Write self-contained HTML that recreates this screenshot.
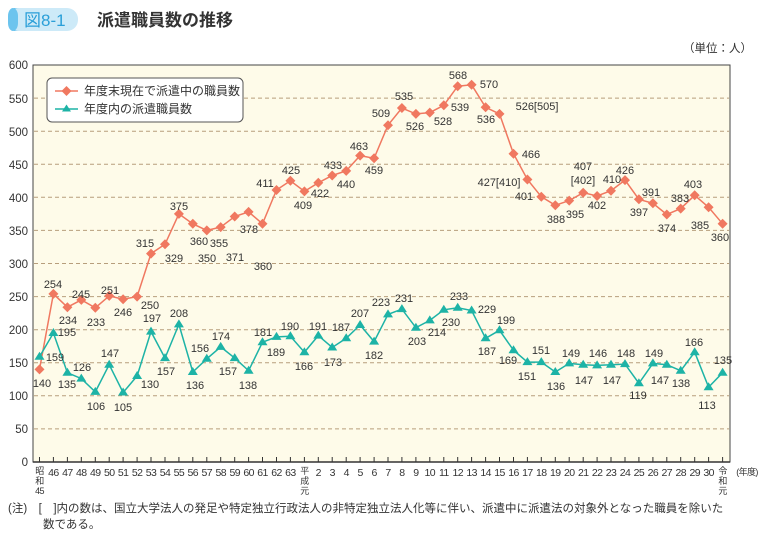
<!DOCTYPE html>
<html><head><meta charset="utf-8"><style>
body{margin:0;background:#fff;}
svg{display:block;font-family:"Liberation Sans","Noto Sans CJK JP",sans-serif;}
</style></head><body>
<svg width="760" height="535" viewBox="0 0 760 535" xmlns="http://www.w3.org/2000/svg">
<rect x="8" y="8" width="70" height="23" rx="11" fill="#cdeaf8"/>
<path d="M19 8 A11 11.5 0 0 0 19 31 L14 31 L14 8Z" fill="#6cc4ee"/>
<rect x="8" y="8" width="10" height="23" rx="8" fill="#6cc4ee"/>
<text x="24" y="26" font-size="17" fill="#2a9fd8">図8-1</text>
<text x="97" y="26" font-size="17" font-weight="bold" fill="#333">派遣職員数の推移</text>
<text x="752" y="52" font-size="11.5" fill="#333" text-anchor="end">（単位：人）</text>
<rect x="33" y="65" width="697" height="397" fill="#fefbe9" stroke="#444" stroke-width="1"/>
<g stroke="#b79e7c" stroke-width="1" stroke-dasharray="4,3">
<line x1="34" x2="729" y1="428.9" y2="428.9"/><line x1="34" x2="729" y1="395.8" y2="395.8"/><line x1="34" x2="729" y1="362.7" y2="362.7"/><line x1="34" x2="729" y1="329.7" y2="329.7"/><line x1="34" x2="729" y1="296.6" y2="296.6"/><line x1="34" x2="729" y1="263.5" y2="263.5"/><line x1="34" x2="729" y1="230.4" y2="230.4"/><line x1="34" x2="729" y1="197.3" y2="197.3"/><line x1="34" x2="729" y1="164.2" y2="164.2"/><line x1="34" x2="729" y1="131.2" y2="131.2"/><line x1="34" x2="729" y1="98.1" y2="98.1"/>
</g>
<line x1="33" y1="462" x2="730" y2="462" stroke="#333" stroke-width="1.5"/>
<g font-size="11.5" fill="#333" text-anchor="end">
<text x="28" y="466">0</text><text x="28" y="433">50</text><text x="28" y="400">100</text><text x="28" y="367">150</text><text x="28" y="334">200</text><text x="28" y="301">250</text><text x="28" y="268">300</text><text x="28" y="235">350</text><text x="28" y="202">400</text><text x="28" y="169">450</text><text x="28" y="136">500</text><text x="28" y="103">550</text><text x="28" y="69">600</text>
</g>
<g stroke="#333" stroke-width="1">
<path d="M39.5 462v-5M53.4 462v-5M67.4 462v-5M81.3 462v-5M95.3 462v-5M109.2 462v-5M123.1 462v-5M137.1 462v-5M151 462v-5M165 462v-5M178.9 462v-5M192.8 462v-5M206.8 462v-5M220.7 462v-5M234.7 462v-5M248.6 462v-5M262.5 462v-5M276.5 462v-5M290.4 462v-5M304.4 462v-5M318.3 462v-5M332.2 462v-5M346.2 462v-5M360.1 462v-5M374.1 462v-5M388 462v-5M401.9 462v-5M415.9 462v-5M429.8 462v-5M443.8 462v-5M457.7 462v-5M471.6 462v-5M485.6 462v-5M499.5 462v-5M513.5 462v-5M527.4 462v-5M541.3 462v-5M555.3 462v-5M569.2 462v-5M583.2 462v-5M597.1 462v-5M611 462v-5M625 462v-5M638.9 462v-5M652.9 462v-5M666.8 462v-5M680.7 462v-5M694.7 462v-5M708.6 462v-5M722.6 462v-5"/>
</g>
<g font-size="10.5" fill="#333" text-anchor="middle" letter-spacing="-0.6">
<text x="39.5" y="474" font-size="9">昭</text><text x="39.5" y="484" font-size="9">和</text><text x="39.5" y="494" font-size="9">45</text>
<text x="53.4" y="476">46</text><text x="67.4" y="476">47</text><text x="81.3" y="476">48</text><text x="95.3" y="476">49</text><text x="109.2" y="476">50</text><text x="123.1" y="476">51</text><text x="137.1" y="476">52</text><text x="151" y="476">53</text><text x="165" y="476">54</text><text x="178.9" y="476">55</text><text x="192.8" y="476">56</text><text x="206.8" y="476">57</text><text x="220.7" y="476">58</text><text x="234.7" y="476">59</text><text x="248.6" y="476">60</text><text x="262.5" y="476">61</text><text x="276.5" y="476">62</text><text x="290.4" y="476">63</text>
<text x="304.4" y="474" font-size="9">平</text><text x="304.4" y="484" font-size="9">成</text><text x="304.4" y="494" font-size="9">元</text>
<text x="318.3" y="476">2</text><text x="332.2" y="476">3</text><text x="346.2" y="476">4</text><text x="360.1" y="476">5</text><text x="374.1" y="476">6</text><text x="388" y="476">7</text><text x="401.9" y="476">8</text><text x="415.9" y="476">9</text><text x="429.8" y="476">10</text><text x="443.8" y="476">11</text><text x="457.7" y="476">12</text><text x="471.6" y="476">13</text><text x="485.6" y="476">14</text><text x="499.5" y="476">15</text><text x="513.5" y="476">16</text><text x="527.4" y="476">17</text><text x="541.3" y="476">18</text><text x="555.3" y="476">19</text><text x="569.2" y="476">20</text><text x="583.2" y="476">21</text><text x="597.1" y="476">22</text><text x="611" y="476">23</text><text x="625" y="476">24</text><text x="638.9" y="476">25</text><text x="652.9" y="476">26</text><text x="666.8" y="476">27</text><text x="680.7" y="476">28</text><text x="694.7" y="476">29</text><text x="708.6" y="476">30</text>
<text x="722.6" y="474" font-size="9">令</text><text x="722.6" y="484" font-size="9">和</text><text x="722.6" y="494" font-size="9">元</text>
<text x="747" y="475" font-size="9">(年度)</text>
</g>
<polyline fill="none" stroke="#f07860" stroke-width="1.5" points="39.5,369.4 53.4,293.9 67.4,307.2 81.3,299.9 95.3,307.8 109.2,295.9 123.1,299.2 137.1,296.6 151,253.6 165,244.3 178.9,213.9 192.8,223.8 206.8,230.4 220.7,227.1 234.7,216.5 248.6,211.9 262.5,223.8 276.5,190 290.4,180.8 304.4,191.4 318.3,182.8 332.2,175.5 346.2,170.9 360.1,155.6 374.1,158.3 388,125.2 401.9,108 415.9,113.9 429.8,112.6 443.8,105.3 457.7,86.2 471.6,84.8 485.6,107.3 499.5,113.9 513.5,153.7 527.4,179.5 541.3,196.7 555.3,205.3 569.2,200.6 583.2,192.7 597.1,196 611,190.7 625,180.1 638.9,199.3 652.9,203.3 666.8,214.5 680.7,208.6 694.7,195.3 708.6,207.3 722.6,223.8"/>
<polyline fill="none" stroke="#1db3a6" stroke-width="1.5" points="39.5,356.8 53.4,333 67.4,372.7 81.3,378.6 95.3,391.9 109.2,364.7 123.1,392.5 137.1,376 151,331.6 165,358.1 178.9,324.4 192.8,372 206.8,358.8 220.7,346.9 234.7,358.1 248.6,370.7 262.5,342.2 276.5,336.9 290.4,336.3 304.4,352.2 318.3,335.6 332.2,347.5 346.2,338.3 360.1,325 374.1,341.6 388,314.4 401.9,309.1 415.9,327.7 429.8,320.4 443.8,309.8 457.7,307.8 471.6,310.5 485.6,338.3 499.5,330.3 513.5,350.2 527.4,362.1 541.3,362.1 555.3,372 569.2,363.4 583.2,364.7 597.1,365.4 611,364.7 625,364.1 638.9,383.3 652.9,363.4 666.8,364.7 680.7,370.7 694.7,352.2 708.6,387.2 722.6,372.7"/>
<g fill="#f07860">
<path d="M39.5 364.4l5 5-5 5-5-5zM53.4 288.9l5 5-5 5-5-5zM67.4 302.2l5 5-5 5-5-5zM81.3 294.9l5 5-5 5-5-5zM95.3 302.8l5 5-5 5-5-5zM109.2 290.9l5 5-5 5-5-5zM123.1 294.2l5 5-5 5-5-5zM137.1 291.6l5 5-5 5-5-5zM151 248.6l5 5-5 5-5-5zM165 239.3l5 5-5 5-5-5zM178.9 208.9l5 5-5 5-5-5zM192.8 218.8l5 5-5 5-5-5zM206.8 225.4l5 5-5 5-5-5zM220.7 222.1l5 5-5 5-5-5zM234.7 211.5l5 5-5 5-5-5zM248.6 206.9l5 5-5 5-5-5zM262.5 218.8l5 5-5 5-5-5zM276.5 185l5 5-5 5-5-5zM290.4 175.8l5 5-5 5-5-5zM304.4 186.4l5 5-5 5-5-5zM318.3 177.8l5 5-5 5-5-5zM332.2 170.5l5 5-5 5-5-5zM346.2 165.9l5 5-5 5-5-5zM360.1 150.6l5 5-5 5-5-5zM374.1 153.3l5 5-5 5-5-5zM388 120.2l5 5-5 5-5-5zM401.9 103l5 5-5 5-5-5zM415.9 108.9l5 5-5 5-5-5zM429.8 107.6l5 5-5 5-5-5zM443.8 100.3l5 5-5 5-5-5zM457.7 81.2l5 5-5 5-5-5zM471.6 79.8l5 5-5 5-5-5zM485.6 102.3l5 5-5 5-5-5zM499.5 108.9l5 5-5 5-5-5zM513.5 148.7l5 5-5 5-5-5zM527.4 174.5l5 5-5 5-5-5zM541.3 191.7l5 5-5 5-5-5zM555.3 200.3l5 5-5 5-5-5zM569.2 195.6l5 5-5 5-5-5zM583.2 187.7l5 5-5 5-5-5zM597.1 191l5 5-5 5-5-5zM611 185.7l5 5-5 5-5-5zM625 175.1l5 5-5 5-5-5zM638.9 194.3l5 5-5 5-5-5zM652.9 198.3l5 5-5 5-5-5zM666.8 209.5l5 5-5 5-5-5zM680.7 203.6l5 5-5 5-5-5zM694.7 190.3l5 5-5 5-5-5zM708.6 202.3l5 5-5 5-5-5zM722.6 218.8l5 5-5 5-5-5z"/>
</g>
<g fill="#1db3a6">
<path d="M39.5 351.8l5 8h-10zM53.4 328l5 8h-10zM67.4 367.7l5 8h-10zM81.3 373.6l5 8h-10zM95.3 386.9l5 8h-10zM109.2 359.7l5 8h-10zM123.1 387.5l5 8h-10zM137.1 371l5 8h-10zM151 326.6l5 8h-10zM165 353.1l5 8h-10zM178.9 319.4l5 8h-10zM192.8 367l5 8h-10zM206.8 353.8l5 8h-10zM220.7 341.9l5 8h-10zM234.7 353.1l5 8h-10zM248.6 365.7l5 8h-10zM262.5 337.2l5 8h-10zM276.5 331.9l5 8h-10zM290.4 331.3l5 8h-10zM304.4 347.2l5 8h-10zM318.3 330.6l5 8h-10zM332.2 342.5l5 8h-10zM346.2 333.3l5 8h-10zM360.1 320l5 8h-10zM374.1 336.6l5 8h-10zM388 309.4l5 8h-10zM401.9 304.1l5 8h-10zM415.9 322.7l5 8h-10zM429.8 315.4l5 8h-10zM443.8 304.8l5 8h-10zM457.7 302.8l5 8h-10zM471.6 305.5l5 8h-10zM485.6 333.3l5 8h-10zM499.5 325.3l5 8h-10zM513.5 345.2l5 8h-10zM527.4 357.1l5 8h-10zM541.3 357.1l5 8h-10zM555.3 367l5 8h-10zM569.2 358.4l5 8h-10zM583.2 359.7l5 8h-10zM597.1 360.4l5 8h-10zM611 359.7l5 8h-10zM625 359.1l5 8h-10zM638.9 378.3l5 8h-10zM652.9 358.4l5 8h-10zM666.8 359.7l5 8h-10zM680.7 365.7l5 8h-10zM694.7 347.2l5 8h-10zM708.6 382.2l5 8h-10zM722.6 367.7l5 8h-10z"/>
</g>
<g font-size="11" fill="#333" text-anchor="middle">
<text x="42" y="387">140</text><text x="53" y="288">254</text><text x="68" y="324">234</text><text x="81" y="298">245</text><text x="96" y="326">233</text><text x="110" y="294">251</text><text x="123" y="316">246</text><text x="150" y="309">250</text><text x="145" y="247">315</text><text x="174" y="262">329</text><text x="179" y="210">375</text><text x="199" y="245">360</text><text x="207" y="262">350</text><text x="219" y="247">355</text><text x="235" y="261">371</text><text x="249" y="233">378</text><text x="263" y="270">360</text><text x="265" y="187">411</text><text x="291" y="174">425</text><text x="303" y="209">409</text><text x="320" y="197">422</text><text x="333" y="169">433</text><text x="346" y="188">440</text><text x="359" y="150">463</text><text x="374" y="174">459</text><text x="381" y="117">509</text><text x="404" y="100">535</text><text x="415" y="130">526</text><text x="443" y="125">528</text><text x="460" y="111">539</text><text x="458" y="79">568</text><text x="489" y="88">570</text><text x="486" y="123">536</text><text x="537" y="110">526[505]</text><text x="531" y="158">466</text><text x="499" y="186">427[410]</text><text x="524" y="200">401</text><text x="556" y="223">388</text><text x="575" y="218">395</text><text x="583" y="170">407</text><text x="583" y="184">[402]</text><text x="597" y="209">402</text><text x="612" y="183">410</text><text x="625" y="174">426</text><text x="639" y="216">397</text><text x="651" y="196">391</text><text x="667" y="232">374</text><text x="680" y="202">383</text><text x="693" y="188">403</text><text x="700" y="229">385</text><text x="720" y="241">360</text>
<text x="55" y="361">159</text><text x="67" y="336">195</text><text x="67" y="388">135</text><text x="82" y="371">126</text><text x="96" y="410">106</text><text x="110" y="357">147</text><text x="123" y="411">105</text><text x="150" y="388">130</text><text x="152" y="322">197</text><text x="166" y="375">157</text><text x="179" y="317">208</text><text x="195" y="389">136</text><text x="200" y="352">156</text><text x="221" y="340">174</text><text x="228" y="375">157</text><text x="248" y="389">138</text><text x="263" y="336">181</text><text x="276" y="356">189</text><text x="290" y="330">190</text><text x="304" y="370">166</text><text x="318" y="330">191</text><text x="333" y="366">173</text><text x="341" y="331">187</text><text x="360" y="317">207</text><text x="374" y="359">182</text><text x="381" y="306">223</text><text x="404" y="302">231</text><text x="417" y="345">203</text><text x="437" y="336">214</text><text x="451" y="326">230</text><text x="459" y="300">233</text><text x="487" y="313">229</text><text x="487" y="355">187</text><text x="506" y="324">199</text><text x="508" y="364">169</text><text x="527" y="380">151</text><text x="541" y="354">151</text><text x="556" y="390">136</text><text x="571" y="357">149</text><text x="584" y="384">147</text><text x="598" y="357">146</text><text x="612" y="384">147</text><text x="626" y="357">148</text><text x="638" y="399">119</text><text x="654" y="357">149</text><text x="660" y="384">147</text><text x="681" y="387">138</text><text x="694" y="346">166</text><text x="707" y="409">113</text><text x="723" y="364">135</text>
</g>
<rect x="47" y="78" width="196" height="44" rx="5" fill="#fff" stroke="#555" stroke-width="1"/>
<line x1="55" y1="91" x2="78" y2="91" stroke="#f07860" stroke-width="1.5"/>
<path d="M66.5 86l5 5-5 5-5-5z" fill="#f07860"/>
<line x1="55" y1="109" x2="78" y2="109" stroke="#1db3a6" stroke-width="1.5"/>
<path d="M66.5 104.5l4.5 7h-9z" fill="#1db3a6"/>
<text x="84" y="95" font-size="12" fill="#333">年度末現在で派遣中の職員数</text>
<text x="84" y="113" font-size="12" fill="#333">年度内の派遣職員数</text>
<text x="8" y="512" font-size="11.5" fill="#333">(注)　[　]内の数は、国立大学法人の発足や特定独立行政法人の非特定独立法人化等に伴い、派遣中に派遣法の対象外となった職員を除いた</text>
<text x="43" y="528" font-size="11.5" fill="#333">数である。</text>
</svg>
</body></html>
